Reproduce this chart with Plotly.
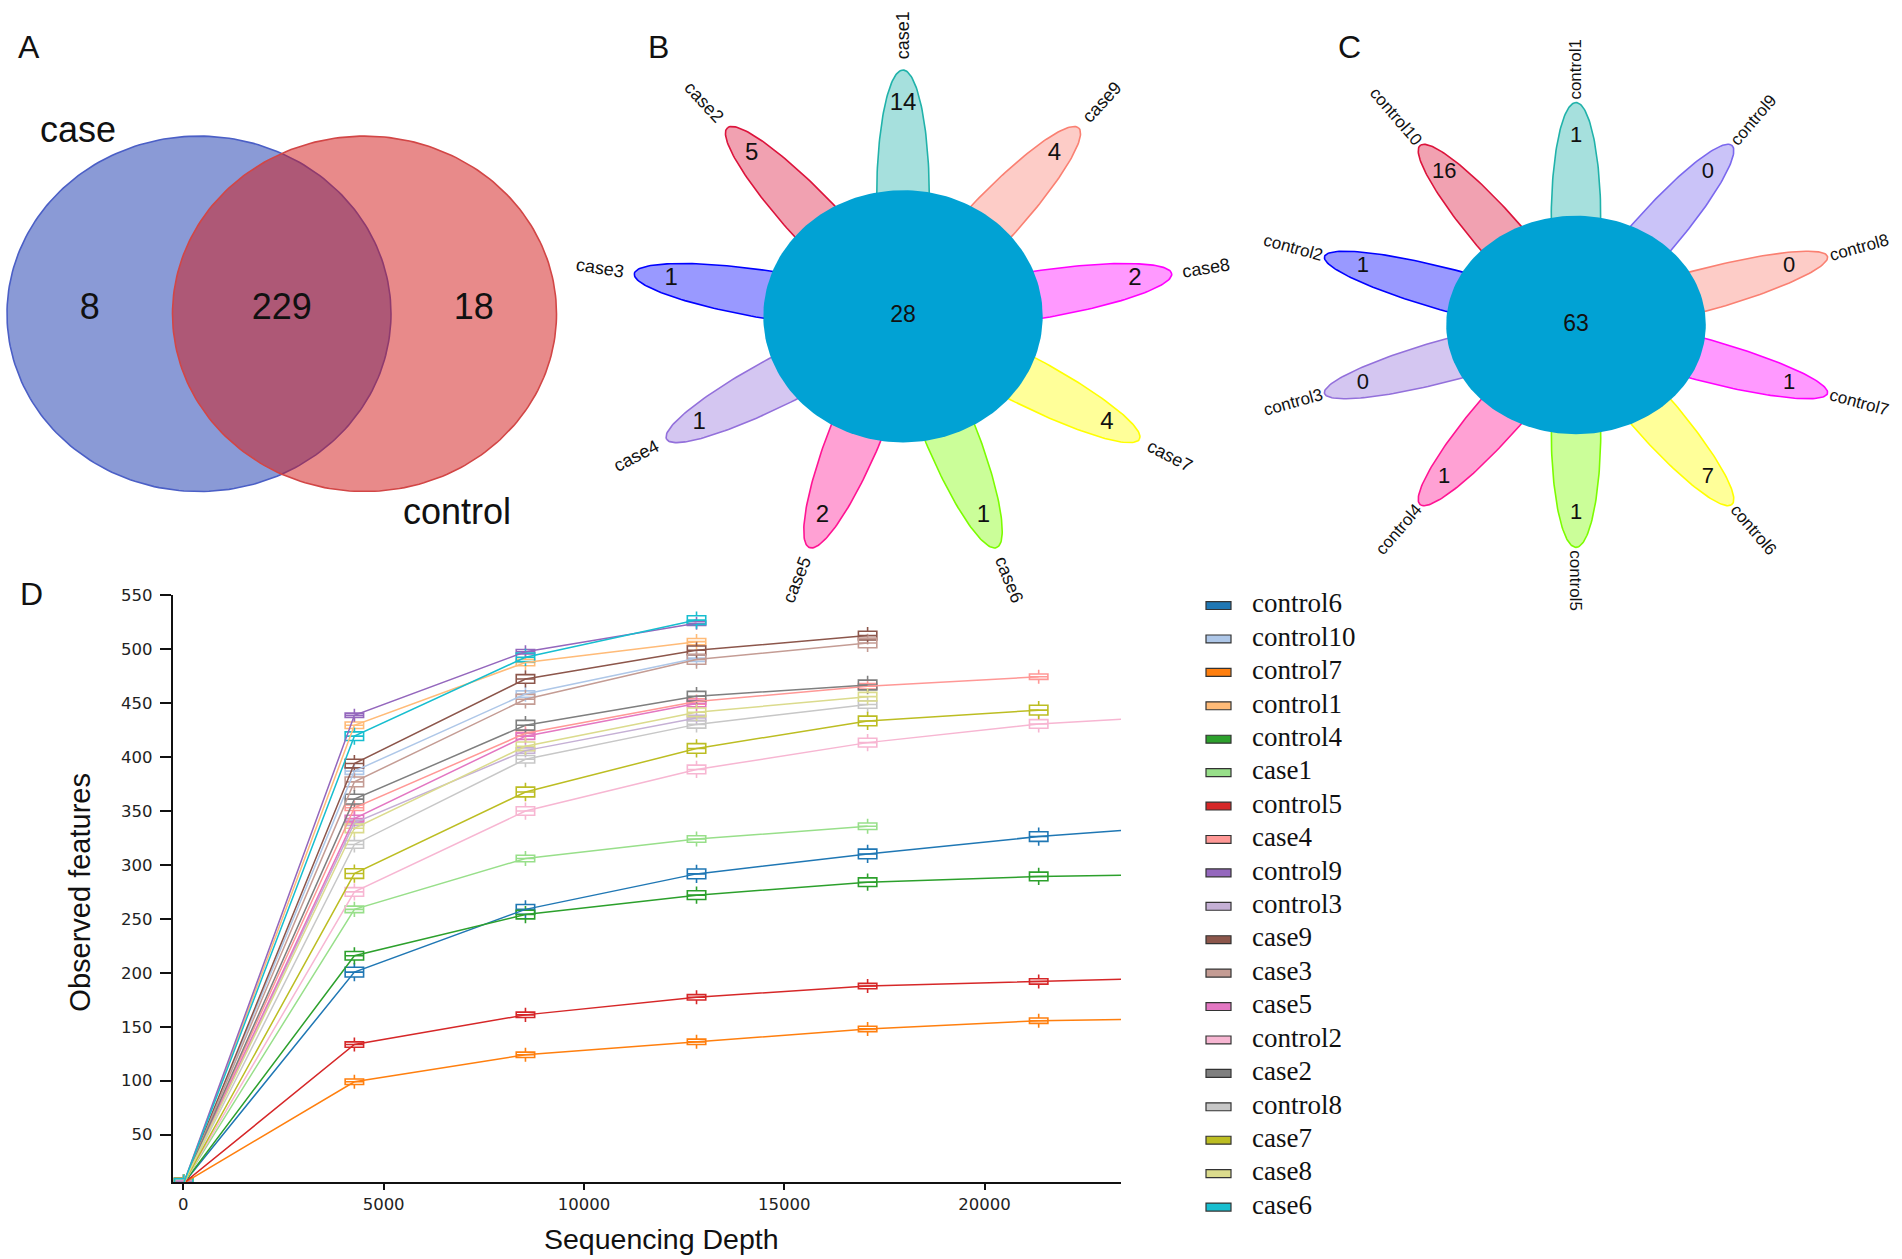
import numpy as np
import plotly.graph_objects as go

W, H = 1902, 1259

# ---------------- data ----------------
# Panel A (Venn)
venn_sets = ["case", "control"]
venn_counts = [8, 229, 18]          # case only, shared, control only

# Panel B (flower, case samples, counter-clockwise from top)
b_samples = ["case1", "case2", "case3", "case4", "case5", "case6", "case7", "case8", "case9"]
b_unique = [14, 5, 1, 1, 2, 1, 4, 2, 4]
b_core = 28
b_colors = ["#20B2AA", "#DC143C", "#0000FF", "#9370DB", "#FF1493",
            "#7CFC00", "#FFFF00", "#FF00FF", "#FA8072"]

# Panel C (flower, control samples, counter-clockwise from top)
c_samples = ["control1", "control10", "control2", "control3", "control4",
             "control5", "control6", "control7", "control8", "control9"]
c_unique = [1, 16, 1, 0, 1, 1, 7, 1, 0, 0]
c_core = 63
c_colors = ["#20B2AA", "#DC143C", "#0000FF", "#9370DB", "#FF1493",
            "#7CFC00", "#FFFF00", "#FF00FF", "#FA8072", "#7B68EE"]

# Panel D (rarefaction curves)
depths = [10, 4270, 8540, 12810, 17080, 21350, 23420]
control6 = [5, 200.6, 258.8, 291.7, 310.2, 326.3, 331.9]
control10 = [5, 387, 458.4, 491.7, None, None, None]
control7 = [5, 99, 124, 136, 148, 155.6, 156.8]
control1 = [5, 429.5, 487.7, 507, None, None, None]
control4 = [5, 215.8, 254, 272, 284, 289.3, 290.5]
case1 = [5, 258.8, 306, 324, 335.9, None, None]
control5 = [5, 133.5, 161, 177.3, 187.7, 192, 194]
case4 = [5, 353, 422, 451.6, 465.6, 474.5, None]
control9 = [5, 438.7, 497.7, 524, None, None, None]
control3 = [5, 339, 406, 436.3, None, None, None]
case9 = [5, 394, 472.4, 499, 512.6, None, None]
case3 = [5, 377, 453.6, 490.5, 505.8, None, None]
case5 = [5, 343, 419.4, 449.6, None, None, None]
control2 = [5, 275, 350, 388.5, 413.4, 430.7, 435]
case2 = [5, 361, 429.5, 456.4, 466.8, None, None]
control8 = [5, 319, 398, 430.3, 448.7, None, None]
case7 = [5, 292, 367.6, 408, 433.5, 443.5, None]
case8 = [5, 334, 410, 441.5, 456, None, None]
case6 = [5, 419.4, 492.5, 527, None, None, None]

legend_names = ["control6", "control10", "control7", "control1", "control4", "case1",
                "control5", "case4", "control9", "control3", "case9", "case3", "case5",
                "control2", "case2", "control8", "case7", "case8", "case6"]
series_list = [control6, control10, control7, control1, control4, case1, control5, case4,
               control9, control3, case9, case3, case5, control2, case2, control8, case7,
               case8, case6]
series_colors = ["#1f77b4", "#aec7e8", "#ff7f0e", "#ffbb78", "#2ca02c", "#98df8a",
                 "#d62728", "#ff9896", "#9467bd", "#c5b0d5", "#8c564b", "#c49c94",
                 "#e377c2", "#f7b6d2", "#7f7f7f", "#c7c7c7", "#bcbd22", "#dbdb8d",
                 "#17becf"]
box_iqr = [9, 6, 5, 6, 8, 6, 5, 5, 4, 5, 8, 9, 6, 8, 9, 7, 9, 8, 8]
box_depths = depths[:6]

y_ticks = [50, 100, 150, 200, 250, 300, 350, 400, 450, 500, 550]
x_ticks = [0, 5000, 10000, 15000, 20000]


# ---------------- helpers ----------------
def pxx(px):
    return px / W


def pyy(py):
    return 1 - py / H


def rgba(hexc, a):
    h = hexc.lstrip("#")
    r, g, b = int(h[0:2], 16), int(h[2:4], 16), int(h[4:6], 16)
    return f"rgba({r},{g},{b},{a})"


CW = {"c": .5, "a": .556, "s": .5, "e": .556, "o": .556, "n": .556, "t": .278,
      "r": .333, "l": .222}


def text_len(s, size):
    return sum(CW.get(ch, .556) for ch in s) * size


fig = go.Figure()
annotations = []

# ---------------- Panel A: Venn ----------------
A_UX, A_UY, A_CX, A_CY = 192.0, 179.0, 281.75, 307.0
A_DOM = (0, 600, 0, 560)
off = 0.431
t = np.linspace(0, 2 * np.pi, 241)
venn_fill = [rgba("#1535AD", 0.5), rgba("#D11515", 0.5)]
venn_line = ["#4B5FC6", "#D24646"]
for i, cx in enumerate([-off, off]):
    fig.add_trace(go.Scatter(x=cx + np.cos(t), y=np.sin(t), mode="lines", fill="toself",
                             fillcolor=venn_fill[i], line=dict(color=venn_line[i], width=1.6),
                             xaxis="x", yaxis="y", hoverinfo="skip", showlegend=False))
region_x = [(-(off + 1) + (off - 1)) / 2, 0.0, ((off + 1) + (1 - off)) / 2]
fig.add_trace(go.Scatter(x=region_x, y=[0.02] * 3, mode="text",
                         text=[str(v) for v in venn_counts],
                         textfont=dict(family="Liberation Sans", size=36, color="#111"),
                         xaxis="x", yaxis="y", hoverinfo="skip", showlegend=False))
annotations.append(dict(x=-1.059, y=1.039, xref="x", yref="y", text=venn_sets[0],
                        showarrow=False, font=dict(family="Liberation Sans", size=36, color="#111")))
annotations.append(dict(x=0.913, y=-1.112, xref="x", yref="y", text=venn_sets[1],
                        showarrow=False, font=dict(family="Liberation Sans", size=36, color="#111")))


# ---------------- Flower helper ----------------
def flower(xa, ya, samples, counts, core, colors, start, step, k, R, a, b, core_r,
           num_r, gap, lab_size, num_size, core_size, core_color):
    tt = np.linspace(0, 2 * np.pi, 181)
    d = R - a
    for i, s in enumerate(samples):
        th = np.deg2rad(start + step * i)
        lx = a * np.cos(tt)
        ly = b * np.sin(tt)
        x = d * np.cos(th) + lx * np.cos(th) - ly * np.sin(th)
        y = d * np.sin(th) + lx * np.sin(th) + ly * np.cos(th)
        fig.add_trace(go.Scatter(x=x, y=y, mode="lines", fill="toself",
                                 fillcolor=rgba(colors[i], 0.4),
                                 line=dict(color=colors[i], width=1.6),
                                 xaxis=xa, yaxis=ya, hoverinfo="skip", showlegend=False))
    fig.add_trace(go.Scatter(x=core_r * np.cos(tt), y=core_r * np.sin(tt), mode="lines",
                             fill="toself", fillcolor=core_color, line=dict(width=0),
                             xaxis=xa, yaxis=ya, hoverinfo="skip", showlegend=False))
    ths = np.deg2rad(start + step * np.arange(len(samples)))
    fig.add_trace(go.Scatter(x=num_r * np.cos(ths), y=num_r * np.sin(ths), mode="text",
                             text=[str(c) for c in counts],
                             textfont=dict(family="Liberation Sans", size=num_size, color="#111"),
                             xaxis=xa, yaxis=ya, hoverinfo="skip", showlegend=False))
    fig.add_trace(go.Scatter(x=[0], y=[0], mode="text", text=[str(core)],
                             textfont=dict(family="Liberation Sans", size=core_size, color="#111"),
                             xaxis=xa, yaxis=ya, hoverinfo="skip", showlegend=False))
    for i, s in enumerate(samples):
        th = np.deg2rad(start + step * i)
        ux, uy = k * np.cos(th), np.sin(th)
        n = np.hypot(ux, uy)
        ux, uy = ux / n, uy / n
        L = text_len(s, lab_size)
        px_x = R * k * np.cos(th) + ux * (gap + L / 2)
        px_y = R * np.sin(th) + uy * (gap + L / 2)
        phi = np.degrees(np.arctan2(np.sin(th), k * np.cos(th)))
        if np.cos(th) < -1e-9:
            phi = phi - 180 if phi > 0 else phi + 180
        annotations.append(dict(x=px_x / k, y=px_y, xref=xa, yref=ya, text=s,
                                showarrow=False, textangle=-phi,
                                xanchor="center", yanchor="middle",
                                font=dict(family="Liberation Sans", size=lab_size, color="#111")))


# Panel B
B_K, B_CX, B_CY = 1.10, 903.0, 309.5
B_DOM = (560, 1260, 0, 620)
flower("x2", "y2", b_samples, b_unique, b_core, b_colors, 90, 40, B_K,
       R=248, a=130, b=24, core_r=127, num_r=214, gap=11, lab_size=18,
       num_size=24, core_size=23, core_color="#01A2D4")

# Panel C
C_K, C_CX, C_CY = 1.18, 1576.0, 318.25
C_DOM = (1262, 1902, 0, 620)
flower("x3", "y3", c_samples, c_unique, c_core, c_colors, 90, 36, C_K,
       R=224, a=118, b=21, core_r=110, num_r=190, gap=3, lab_size=17,
       num_size=22, core_size=23, core_color="#01A2D4")

# ---------------- Panel D ----------------
for name, vals, col, iqr in zip(legend_names, series_list, series_colors, box_iqr):
    xs = [d for d, v in zip(depths, vals) if v is not None]
    ys = [v for v in vals if v is not None]
    fig.add_trace(go.Scatter(x=xs, y=ys, mode="lines", line=dict(color=col, width=1.5),
                             xaxis="x4", yaxis="y4", hoverinfo="skip", showlegend=False))
    bx = [d for d, v in zip(box_depths, vals[:6]) if v is not None]
    bm = [v for v in vals[:6] if v is not None]
    fig.add_trace(go.Box(x=bx, median=bm,
                         q1=[m - iqr / 2 for m in bm], q3=[m + iqr / 2 for m in bm],
                         lowerfence=[m - iqr / 2 - 4 for m in bm],
                         upperfence=[m + iqr / 2 + 4 for m in bm],
                         width=460, whiskerwidth=0, orientation="v",
                         line=dict(color=col, width=1.6), fillcolor="rgba(255,255,255,0)",
                         xaxis="x4", yaxis="y4", hoverinfo="skip", showlegend=False))

# legend drawn on its own hidden axis: one row per series
leg_rows = list(range(len(legend_names)))
fig.add_trace(go.Bar(y=leg_rows, x=[25] * len(leg_rows), base=11, orientation="h",
                     width=0.238, marker=dict(color=series_colors,
                                              line=dict(color="#333333", width=1.2)),
                     xaxis="x5", yaxis="y5", hoverinfo="skip", showlegend=False))
fig.add_trace(go.Scatter(y=leg_rows, x=[57] * len(leg_rows), mode="text",
                         text=legend_names, textposition="middle right",
                         textfont=dict(family="Liberation Serif", size=27, color="#111"),
                         xaxis="x5", yaxis="y5", hoverinfo="skip", showlegend=False))

D_DOM = (172.7, 1121.0, 590.5, 1181.5)
x0_val = (172.7 - 183.3) / 0.040065
x1_val = (1121.0 - 183.3) / 0.040065
L_DOM = (1195, 1500, 584.0, 1223.5)

hidden = dict(visible=False, fixedrange=True, showgrid=False, zeroline=False)


def xdom(dm):
    return [pxx(dm[0]), pxx(dm[1])]


def ydom(dm):
    return [pyy(dm[3]), pyy(dm[2])]


layout = dict(
    width=W, height=H, margin=dict(l=0, r=0, t=0, b=0),
    paper_bgcolor="white", plot_bgcolor="rgba(0,0,0,0)",
    boxmode="overlay", showlegend=False,
    xaxis=dict(domain=xdom(A_DOM), anchor="y",
               range=[(A_DOM[0] - A_CX) / A_UX, (A_DOM[1] - A_CX) / A_UX], **hidden),
    yaxis=dict(domain=ydom(A_DOM), anchor="x",
               range=[(A_CY - A_DOM[3]) / A_UY, (A_CY - A_DOM[2]) / A_UY], **hidden),
    xaxis2=dict(domain=xdom(B_DOM), anchor="y2",
                range=[(B_DOM[0] - B_CX) / B_K, (B_DOM[1] - B_CX) / B_K], **hidden),
    yaxis2=dict(domain=ydom(B_DOM), anchor="x2",
                range=[B_CY - B_DOM[3], B_CY - B_DOM[2]], **hidden),
    xaxis3=dict(domain=xdom(C_DOM), anchor="y3",
                range=[(C_DOM[0] - C_CX) / C_K, (C_DOM[1] - C_CX) / C_K], **hidden),
    yaxis3=dict(domain=ydom(C_DOM), anchor="x3",
                range=[C_CY - C_DOM[3], C_CY - C_DOM[2]], **hidden),
    xaxis4=dict(domain=xdom(D_DOM), anchor="y4", range=[x0_val, x1_val],
                showgrid=False, zeroline=False, showline=True, linecolor="#111",
                linewidth=1.8, ticks="outside", ticklen=6, tickwidth=1.6,
                tickcolor="#111", tickvals=x_ticks, ticktext=[str(v) for v in x_ticks],
                tickfont=dict(family="DejaVu Sans", size=16.5, color="#222"),
                fixedrange=True),
    yaxis4=dict(domain=ydom(D_DOM), anchor="x4", range=[6, 550],
                showgrid=False, zeroline=False, showline=True, linecolor="#111",
                linewidth=1.8, ticks="outside", ticklen=11, tickwidth=1.6,
                tickcolor="#111", tickvals=y_ticks, ticktext=[str(v) for v in y_ticks],
                tickfont=dict(family="DejaVu Sans", size=16.5, color="#222"),
                ticklabelstandoff=4, fixedrange=True),
    xaxis5=dict(domain=xdom(L_DOM), anchor="y5", range=[0, L_DOM[1] - L_DOM[0]], **hidden),
    yaxis5=dict(domain=ydom(L_DOM), anchor="x5", range=[len(legend_names) - 0.5, -0.5],
                **hidden),
)

panel_font = dict(family="Liberation Sans", size=32, color="#111")
for lab, px, py in [("A", 28.7, 38), ("B", 658, 38), ("C", 1349, 38), ("D", 31, 589)]:
    annotations.append(dict(x=pxx(px), y=pyy(py), xref="paper", yref="paper", text=lab,
                            showarrow=False, xanchor="center", yanchor="middle", font=panel_font))

annotations.append(dict(x=pxx(80), y=pyy(890), xref="paper", yref="paper",
                        text="Observed features", textangle=-90, showarrow=False,
                        xanchor="center", yanchor="middle",
                        font=dict(family="Liberation Sans", size=29, color="#111")))
annotations.append(dict(x=pxx(661), y=pyy(1239), xref="paper", yref="paper",
                        text="Sequencing Depth", showarrow=False,
                        xanchor="center", yanchor="middle",
                        font=dict(family="Liberation Sans", size=28.5, color="#111")))

layout["annotations"] = annotations
fig.update_layout(**layout)

fig.write_html("out.html", config={"displayModeBar": False},
               post_script="document.body.style.margin='0';document.body.style.overflow='hidden';")
